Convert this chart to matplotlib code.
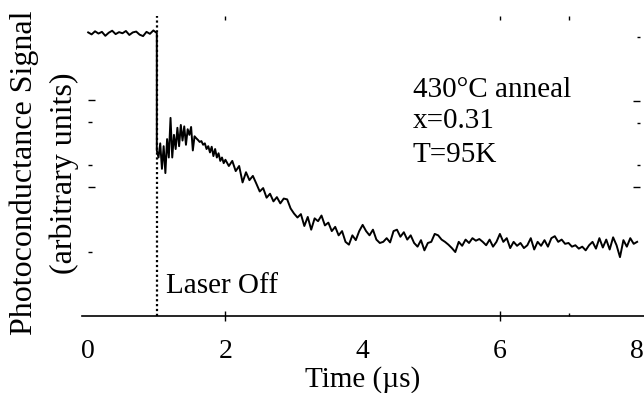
import numpy as np
import matplotlib
matplotlib.use("Agg")
import matplotlib.pyplot as plt

plt.rcParams['font.family'] = ['Liberation Serif', 'DejaVu Serif']

# ---- data (time in us, signal in arbitrary units) ----
# laser on: flat plateau
t_on = np.round(np.arange(0, 1.0001, 0.05), 3)
s_on = [1.002, 0.995, 1.006, 0.998, 1.004, 0.990, 1.001, 1.008, 0.996, 1.003, 0.999,
        1.007, 0.993, 1.002, 1.005, 0.994, 0.989, 1.004, 0.997, 1.009, 1.000]

# just after the laser is switched off (noisy bump)
t_fast = np.round(np.arange(1.0, 2.0001, 0.025), 3)
s_fast = [0.585, 0.560, 0.610, 0.520, 0.600, 0.505, 0.625, 0.560, 0.700, 0.560, 0.640,
          0.590, 0.665, 0.600, 0.675, 0.620, 0.670, 0.605, 0.660, 0.640, 0.668,
          0.585, 0.635, 0.628, 0.622, 0.615, 0.618, 0.605, 0.610, 0.590, 0.600,
          0.578, 0.598, 0.565, 0.590, 0.560, 0.575, 0.548, 0.560, 0.540, 0.552]

# slow decay and tail
t_slow = np.round(np.arange(2.05, 8.0001, 0.05), 3)
s_slow = [0.530, 0.548, 0.512, 0.530, 0.472, 0.508, 0.480, 0.495, 0.468, 0.440,
          0.452, 0.418, 0.432, 0.405, 0.420, 0.398, 0.415, 0.412, 0.380, 0.362,
          0.348, 0.360, 0.318, 0.350, 0.305, 0.345, 0.335, 0.355, 0.320, 0.330,
          0.300, 0.315, 0.285, 0.300, 0.262, 0.252, 0.285, 0.268, 0.300, 0.322,
          0.300, 0.285, 0.305, 0.270, 0.258, 0.262, 0.275, 0.260, 0.300, 0.305,
          0.280, 0.296, 0.270, 0.285, 0.258, 0.245, 0.268, 0.232, 0.258, 0.262,
          0.290, 0.285, 0.270, 0.262, 0.252, 0.240, 0.226, 0.262, 0.248, 0.270,
          0.258, 0.275, 0.266, 0.272, 0.262, 0.250, 0.270, 0.245, 0.262, 0.290,
          0.262, 0.275, 0.240, 0.262, 0.248, 0.258, 0.240, 0.250, 0.275, 0.235,
          0.262, 0.248, 0.268, 0.245, 0.275, 0.282, 0.262, 0.270, 0.255, 0.258,
          0.245, 0.250, 0.238, 0.245, 0.232, 0.250, 0.262, 0.238, 0.275, 0.242,
          0.270, 0.235, 0.278, 0.250, 0.208, 0.268, 0.245, 0.275, 0.255, 0.262]

t_all = np.concatenate([t_on, t_fast, t_slow])
s_all = np.concatenate([s_on, s_fast, s_slow])

laser_off = 1.0
xtick_vals = [0, 2, 4, 6, 8]
left_major = [0.763, 0.456]
left_minor = [0.686, 0.534, 0.226]
right_major = [0.760, 0.456]
right_minor = [0.986, 0.682, 0.534]
top_ticks = [2, 6, 7]

fig = plt.figure(figsize=(6.44, 3.93), dpi=100)
ax = fig.add_axes([82/644, 77/393, 562/644, 300/393])

ax.plot(t_all, s_all, color='black', lw=1.4)
ax.vlines(laser_off, 0, 1.06, color='black', lw=1.6, linestyle=(0, (1, 1.2)))

ax.set_xlim(-0.09, 8.1)
ax.set_ylim(0, 1.06)

for side in ['top', 'right', 'left']:
    ax.spines[side].set_visible(False)
ax.spines['bottom'].set_linewidth(1.2)

# x ticks: labels at every 2, marks only at 2 and 6 (+ minor at 7)
ax.set_xticks(xtick_vals)
ax.set_xticks([7], minor=True)
ax.tick_params(axis='x', which='major', direction='inout', length=7, width=1,
               labelsize=20, pad=13)
ax.tick_params(axis='x', which='minor', direction='in', length=2.5, width=1)
for i, tk in enumerate(ax.xaxis.get_major_ticks()):
    if xtick_vals[i] in (0, 4, 8):
        tk.tick1line.set_visible(False)

# left tick remnants at t=0
ax.spines['left'].set_position(('data', 0))
ax.set_yticks(left_major)
ax.set_yticks(left_minor, minor=True)
ax.tick_params(axis='y', which='major', direction='in', length=5, width=1, labelleft=False)
ax.tick_params(axis='y', which='minor', direction='in', length=3, width=1)

# right tick remnants
sec_r = ax.secondary_yaxis((639.7 - 82) / 562)
sec_r.set_yticks(right_major)
sec_r.set_yticks(right_minor, minor=True)
sec_r.tick_params(axis='y', which='major', direction='in', length=5, width=1, labelright=False)
sec_r.tick_params(axis='y', which='minor', direction='in', length=2.5, width=1)
for sp in sec_r.spines.values():
    sp.set_visible(False)

# top tick remnants
sec_t = ax.secondary_xaxis('top')
sec_t.set_xticks(top_ticks)
sec_t.tick_params(axis='x', direction='in', length=3, width=1, labeltop=False)
for sp in sec_t.spines.values():
    sp.set_visible(False)

ax.set_xlabel('Time (µs)', fontsize=21)
ax.xaxis.set_label_coords(0.5, -0.168)
fig.text(44/644, 1 - 173/393, 'Photoconductance Signal\n(arbitrary units)',
         rotation=90, ha='center', va='center', fontsize=23, linespacing=1.45,
         multialignment='center')

ax.text(1.135, 0.081, 'Laser Off', fontsize=21, ha='left', va='baseline')
ax.text(4.73, 0.774, '430°C anneal', fontsize=21, ha='left', va='baseline')
ax.text(4.73, 0.664, 'x=0.31', fontsize=21, ha='left', va='baseline')
ax.text(4.73, 0.544, 'T=95K', fontsize=21, ha='left', va='baseline')

fig.savefig('out.png', dpi=100)
